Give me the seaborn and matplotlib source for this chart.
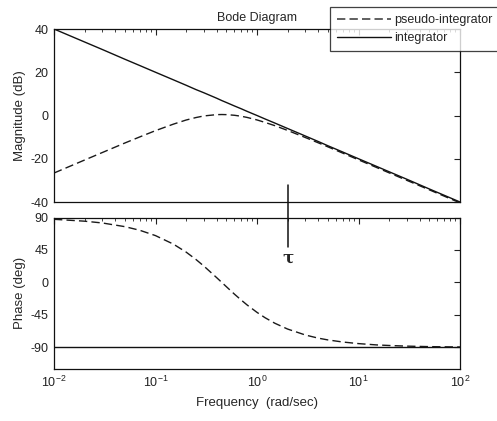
import numpy as np
import pandas as pd
import matplotlib
matplotlib.use("Agg")
import matplotlib.pyplot as plt
import matplotlib.transforms as mtransforms
from matplotlib.lines import Line2D
import seaborn as sns

# frequencies (rad/sec)
freq = [0.01, 0.02, 0.03, 0.05, 0.07, 0.1, 0.15, 0.2, 0.25, 0.3, 0.4, 0.45,
        0.5, 0.6, 0.7, 0.8, 1.0, 1.2, 1.5, 2, 3, 4, 5, 7, 10, 15, 20, 30, 50, 100]

# magnitude (dB)
mag_pseudo = [-26.6, -20.6, -17.1, -12.7, -9.9, -7.0, -4.0, -2.1, -0.95, -0.2, 0.4, 0.45,
              0.4, 0.1, -0.35, -0.9, -2.05, -3.2, -4.7, -6.9, -10.2, -12.6, -14.5, -17.4,
              -20.5, -24.0, -26.5, -30.0, -34.4, -40.4]
mag_integ = [40, 34.0, 30.5, 26.0, 23.1, 20, 16.5, 14.0, 12.0, 10.5, 8.0, 6.9,
             6.0, 4.4, 3.1, 1.9, 0, -1.6, -3.5, -6.0, -9.5, -12.0, -14.0, -16.9,
             -20, -23.5, -26.0, -29.5, -34.0, -40]

# phase (deg)
ph_pseudo = [87.5, 84.9, 82.4, 77.3, 72.3, 64.9, 53.1, 42.1, 31.9, 22.6, 6.7, 0,
             -6.0, -16.3, -24.5, -31.3, -41.5, -48.9, -56.6, -64.6, -72.9, -77.2, -79.7, -82.6,
             -84.8, -86.6, -87.4, -88.3, -89.0, -89.5]
ph_integ = [-90] * len(freq)

series = ["pseudo-integrator", "integrator"]
tau_freq = 2.0

df = pd.concat([
    pd.DataFrame({"freq": freq, "mag": mag_pseudo, "phase": ph_pseudo, "series": series[0]}),
    pd.DataFrame({"freq": freq, "mag": mag_integ, "phase": ph_integ, "series": series[1]}),
])

sns.set_theme(style="white")
plt.rcParams["font.family"] = ["Liberation Sans", "DejaVu Sans"]
plt.rcParams["mathtext.default"] = "regular"
plt.rcParams["axes.unicode_minus"] = False

fig = plt.figure(figsize=(4.97, 4.21), dpi=100)
W, H = 497, 421
ax1 = fig.add_axes([54 / W, 1 - 202 / H, 406 / W, 173 / H])
ax2 = fig.add_axes([54 / W, 1 - 369 / H, 406 / W, 151.5 / H])

pal = {series[0]: "#1a1a1a", series[1]: "#111111"}
dashes = {series[0]: (6, 3), series[1]: ""}

sns.lineplot(data=df, x="freq", y="mag", hue="series", style="series", palette=pal,
             dashes=dashes, lw=1.0, ax=ax1, legend=False, sort=False)
sns.lineplot(data=df, x="freq", y="phase", hue="series", style="series", palette=pal,
             dashes=dashes, lw=1.0, ax=ax2, legend=False, sort=False)

for ax in (ax1, ax2):
    ax.set_xscale("log")
    ax.set_xlim(0.01, 100)
    ax.tick_params(which="both", direction="in", top=True, right=True,
                   labelsize=9, colors="#222222", pad=4)
    ax.tick_params(which="major", length=4, width=0.8)
    ax.tick_params(which="minor", length=2, width=0.6)
    for s in ax.spines.values():
        s.set_color("#111111")
        s.set_linewidth(0.9)
    ax.set_xlabel("")

ax1.set_ylim(-40, 40)
ax1.set_yticks([-40, -20, 0, 20, 40])
ax1.tick_params(labelbottom=False)
ax1.set_ylabel("Magnitude (dB)", fontsize=9.5, labelpad=3)
ax1.set_title("Bode Diagram", fontsize=9, pad=6, x=0.5)

ax2.set_ylim(-120, 90)
ax2.set_yticks([-90, -45, 0, 45, 90])
ax2.set_ylabel("Phase (deg)", fontsize=9.5, labelpad=3)
ax2.set_xlabel("Frequency  (rad/sec)", fontsize=9.5, labelpad=5)

# tau marker spanning both panels
tr = mtransforms.blended_transform_factory(ax2.transData, fig.transFigure)
fig.add_artist(Line2D([tau_freq, tau_freq], [1 - 185 / H, 1 - 247 / H], transform=tr,
                      color="#111111", lw=1.1))
fig.text(tau_freq, 1 - 258 / H, "τ", transform=tr, ha="center", va="center",
         fontsize=12, fontweight="bold", family=["DejaVu Serif"])

handles = [Line2D([], [], color="#444444", lw=1.2, dashes=(5, 2.5)),
           Line2D([], [], color="#111111", lw=1.0)]
leg = fig.legend(handles, series, loc="upper left", bbox_to_anchor=(330 / W, 1 - 7 / H),
                 frameon=True, fancybox=False, fontsize=9, handlelength=4.3,
                 handletextpad=0.25, borderpad=0.55, labelspacing=0.5, borderaxespad=0)
leg.get_frame().set_edgecolor("#111111")
leg.get_frame().set_linewidth(0.9)

fig.savefig("out.png", dpi=100, facecolor="white")
